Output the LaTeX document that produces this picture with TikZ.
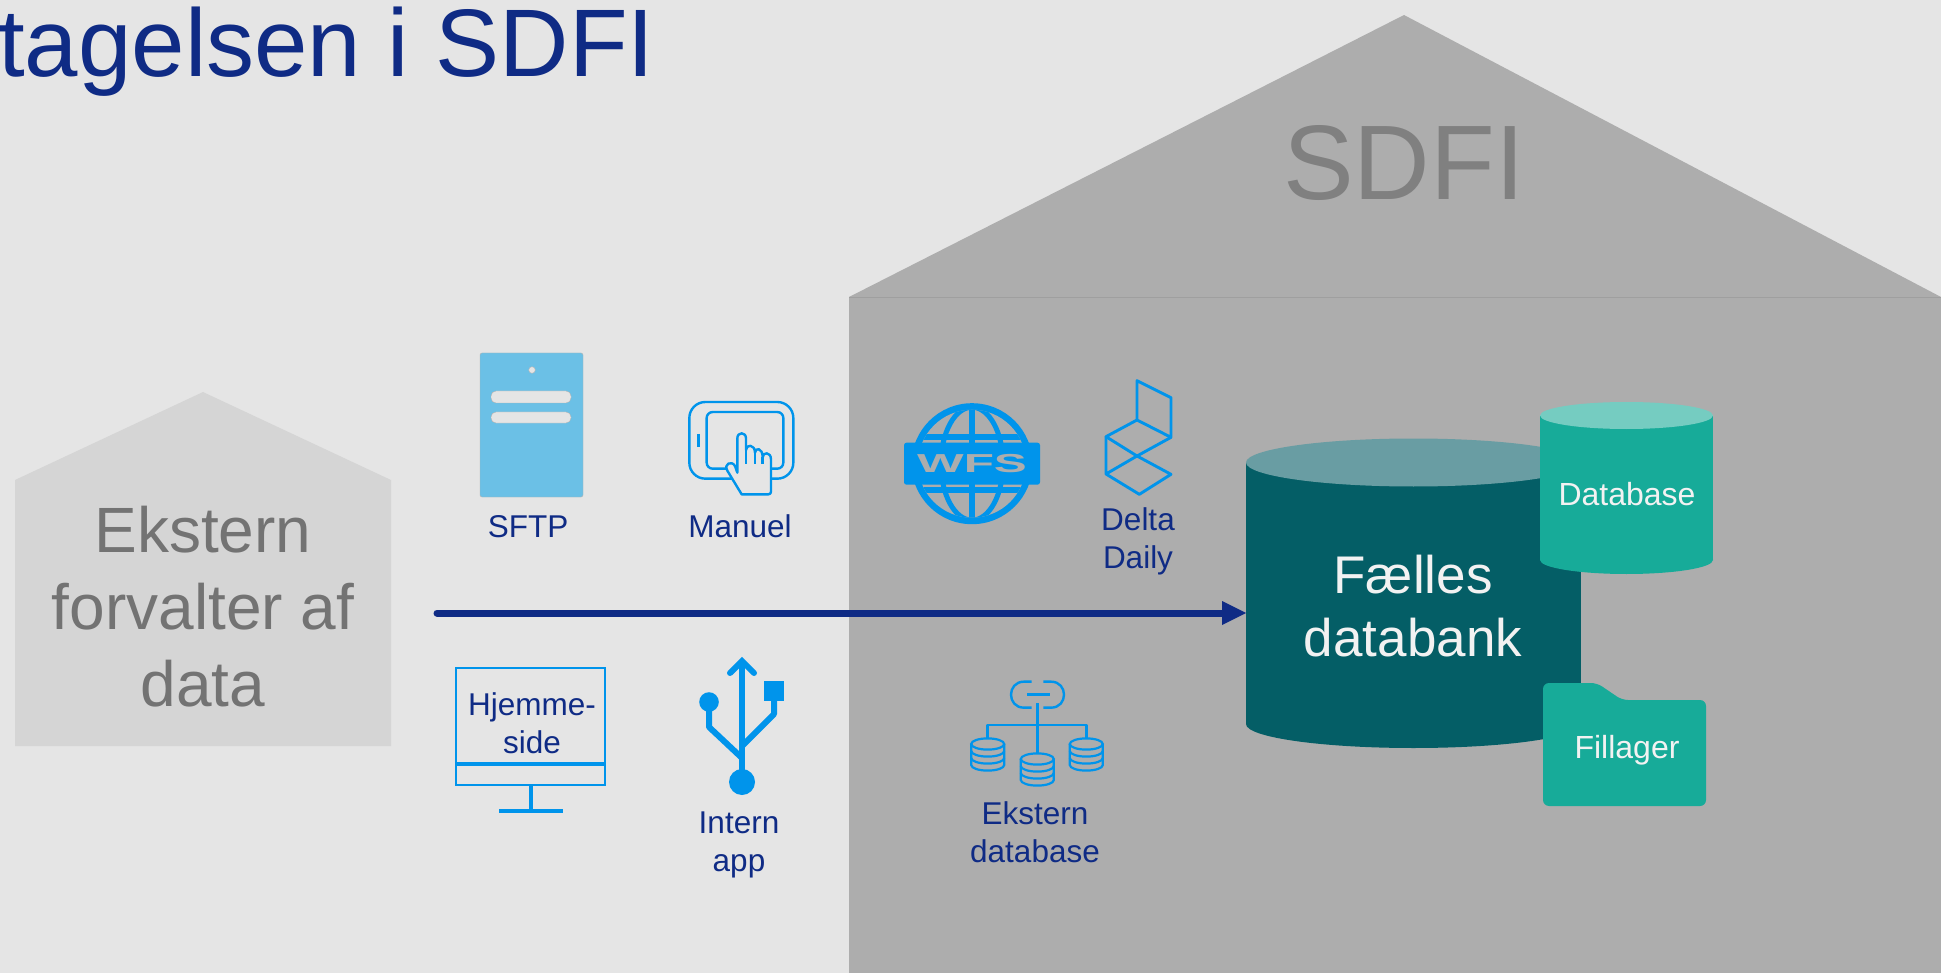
\documentclass[tikz,border=0pt]{standalone}
\usepackage{fontspec}
\setmainfont{Liberation Sans}
\definecolor{bgc}{HTML}{E5E5E5}
\definecolor{sdfi}{HTML}{ADADAD}
\definecolor{smallhouse}{HTML}{D5D5D5}
\definecolor{navy}{HTML}{0F2B85}
\definecolor{iconblue}{HTML}{0094EB}
\definecolor{skyblue}{HTML}{6BC0E6}
\definecolor{bankdark}{HTML}{045E66}
\definecolor{banktop}{HTML}{699DA3}
\definecolor{teal}{HTML}{17AB99}
\definecolor{tealtop}{HTML}{75CCC1}
\newcommand{\fs}[2]{\fontsize{#1}{#2}\selectfont}
\tikzset{
  lbl/.style={text=navy,font=\fs{31.5}{38},align=center,anchor=base,inner sep=0pt},
  wht/.style={text=white!95!black,font=\fs{32}{38},align=center,anchor=base,inner sep=0pt},
  iconline/.style={draw=iconblue,line width=2.9pt,line join=round,fill=none},
  thinicon/.style={draw=iconblue,line width=2.4pt,line join=round,fill=none},
  zoomA/.style={shift={(440,340)},x=0.33333pt,y=-0.33333pt},
  zoomB/.style={shift={(880,360)},x=0.33333pt,y=-0.33333pt},
  zoomC/.style={shift={(950,660)},x=0.33333pt,y=-0.33333pt},
}
\begin{document}
\begin{tikzpicture}[x=1pt,y=-1pt]
\useasboundingbox (0,0) rectangle (1941,973);
\fill[bgc] (0,0) rectangle (1941,973);
% SDFI house
\fill[sdfi] (849,297) rectangle (1941,973);
\fill[sdfi] (849,297) -- (1404,15) -- (1941,297) -- cycle;
\draw[black!8!sdfi,line width=0.8pt] (849,297) -- (1941,297);
% title
\node[anchor=base west,inner sep=0pt,text=navy,font=\fs{96}{110}] (title) at (-2,77) {tagelsen i SDFI};
\node[anchor=base,inner sep=0pt,text=black!50,font=\fs{106}{120}] (sdfilabel) at (1404,200) {SDFI};
% external house
\fill[smallhouse] (15,480) -- (203,392) -- (391,480) -- (391,746) -- (15,746) -- cycle;
\node[anchor=base,inner sep=0pt,align=center,text=black!55,font=\fs{64}{77}] (ekstern) at (203,706) {Ekstern\\forvalter af\\data};
% bank cylinder
\fill[bankdark] (1246,462.5) rectangle (1581,724);
\fill[bankdark] (1413.5,724) ellipse [x radius=167.5pt,y radius=24pt];
\fill[banktop] (1413.5,462.5) ellipse [x radius=167.5pt,y radius=24pt];
\node[anchor=base,inner sep=0pt,align=center,text=white!95!black,font=\fs{53}{63}] (bank) at (1413,656) {Fælles\\databank};
% database cylinder
\fill[teal] (1540,415.5) rectangle (1713,560);
\fill[teal] (1626.5,560) ellipse [x radius=86.5pt,y radius=14pt];
\fill[tealtop] (1626.5,415.5) ellipse [x radius=86.5pt,y radius=13.5pt];
\node[wht] (database) at (1627,505) {Database};
% folder
\fill[teal,rounded corners=6pt] (1543,806) -- (1543,683) -- (1597,683) -- (1622,700) -- (1706,700) -- (1706,806) -- cycle;
\node[wht] (fillager) at (1627,758) {Fillager};
% arrow
\coordinate (arrowstart) at (437,613);
\coordinate (arrowend) at (1246,613);
\draw[navy,line width=7pt,line cap=round] (arrowstart) -- (1225,613);
\fill[navy] (arrowend) -- (1222,601) -- (1222,625) -- cycle;
% SFTP server
\fill[skyblue,draw=black!30,line width=0.4pt,rounded corners=2pt] (480,353) rectangle (583,497);
\fill[bgc,draw=black!30,line width=0.4pt] (532,370) circle [radius=3.3pt];
\fill[bgc,draw=black!30,line width=0.4pt,rounded corners=5pt] (491,391) rectangle (571,403);
\fill[bgc,draw=black!30,line width=0.4pt,rounded corners=5pt] (491,412) rectangle (571,423);
\node[lbl] (sftp) at (528,537) {SFTP};
% Tablet
\begin{scope}[zoomA]
\draw[thinicon,rounded corners=16pt] (748,186) rectangle (1060,416);
\draw[thinicon,rounded corners=6pt] (800,216) rectangle (1030,386);
\draw[thinicon] (775,282) -- (775,322);
\draw[thinicon,fill=bgc] (905,463) -- (862,392) .. controls (850,372) and (875,360) .. (885,378) -- (892,398) -- (892,295) .. controls (892,275) and (918,275) .. (918,295) -- (918,330) .. controls (918,312) and (945,312) .. (945,338) .. controls (945,322) and (968,322) .. (968,352) .. controls (968,335) and (993,335) .. (993,358) -- (993,455) .. controls (993,460) and (990,463) .. (985,463) -- cycle;
\draw[thinicon] (918,325) -- (918,372) (945,338) -- (945,372) (968,352) -- (968,372);
\end{scope}
\node[lbl] (manuel) at (740,537) {Manuel};
% WFS globe
\begin{scope}
\fill[iconblue] (972,463.7) circle [radius=60.5pt];
\clip (972,463.7) circle [radius=54pt];
\fill[sdfi] (918,409) rectangle (1026,519);
\draw[iconblue,line width=5.5pt] (972,405) -- (972,522);
\draw[iconblue,line width=5pt] (972,463.7) ellipse [x radius=31pt,y radius=56.5pt];
\fill[iconblue] (910,434) rectangle (1034,440);
\fill[iconblue] (910,487.4) rectangle (1034,493.4);
\end{scope}
\fill[iconblue,rounded corners=2.5pt] (904,442.7) rectangle (1040,484.7);
\node[anchor=center,inner sep=0pt,text=sdfi,font=\fs{26}{30}\bfseries,xscale=1.9] (wfs) at (972,463.7) {WFS};
% Delta icon
\begin{scope}[zoomB]
\draw[iconline] (771,62) -- (873,113) -- (873,232) -- (771,180) -- cycle;
\draw[iconline] (771,180) -- (678,230) -- (771,288) -- (873,232);
\draw[iconline] (678,230) -- (678,342) -- (778,403) -- (873,343) -- (771,288) -- (678,342);
\end{scope}
\node[lbl] (delta) at (1138,568) {Delta\\Daily};
% Monitor
\draw[iconblue,line width=2.8pt] (456,668) rectangle (605,785);
\draw[iconblue,line width=4.2pt] (456,764) -- (605,764);
\draw[iconblue,line width=4pt] (531,785) -- (531,811);
\draw[iconblue,line width=4pt] (499,811) -- (563,811);
\node[lbl] (hjemme) at (532,753) {Hjemme-\\side};
% USB
\draw[iconblue,line width=6pt] (742,662) -- (742,775);
\draw[iconblue,line width=6pt,line cap=round,line join=miter] (730,673) -- (742,661) -- (754,673);
\draw[iconblue,line width=6pt,line join=round] (709,702) -- (709,727) -- (742,758);
\draw[iconblue,line width=6pt,line join=round] (774,701) -- (774,714) -- (742,746);
\fill[iconblue] (742,782) circle [radius=13pt];
\fill[iconblue] (709,702) circle [radius=9.8pt];
\fill[iconblue] (764.3,681) rectangle (783.7,700.5);
\node[lbl] (intern) at (739,871) {Intern\\app};
% External database icon
\begin{scope}[zoomC]
\draw[thinicon] (245,65) -- (222,65) .. controls (170,65) and (170,143) .. (222,143) -- (245,143);
\draw[thinicon] (280,65) -- (303,65) .. controls (355,65) and (355,143) .. (303,143) -- (280,143);
\draw[thinicon,line width=3pt] (232,103) -- (300,103);
\draw[thinicon,line width=3pt] (262,130) -- (262,280);
\draw[thinicon] (113,235) -- (113,195) -- (409,195) -- (409,235);
\end{scope}
\foreach \cx/\cy in {987.7/744, 1037.3/759, 1086.3/744}{
  \draw[iconblue,line width=2.2pt] (\cx,\cy) ellipse [x radius=16.5pt,y radius=5.6pt];
  \draw[iconblue,line width=2.2pt] (\cx-16.5,\cy) -- (\cx-16.5,\cy+21) arc [start angle=180,end angle=360,x radius=16.5pt,y radius=5.6pt] -- (\cx+16.5,\cy);
  \draw[iconblue,line width=2.2pt] (\cx-16.5,\cy+7) arc [start angle=180,end angle=360,x radius=16.5pt,y radius=5.6pt];
  \draw[iconblue,line width=2.2pt] (\cx-16.5,\cy+14) arc [start angle=180,end angle=360,x radius=16.5pt,y radius=5.6pt];
}
\node[lbl] (extdb) at (1035,862) {Ekstern\\database};
\end{tikzpicture}
\end{document}
